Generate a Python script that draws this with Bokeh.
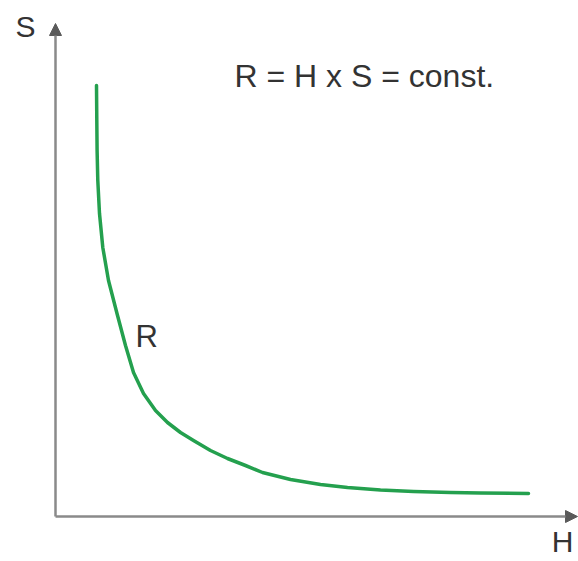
from bokeh.plotting import figure
from bokeh.models import Range1d, Arrow, NormalHead, ColumnDataSource
from bokeh.core.properties import value
from bokeh.embed import file_html
from bokeh.resources import INLINE

# ---- data (arbitrary units) ----
H_values = [0.82, 0.826, 0.832, 0.846, 0.88, 0.946, 1.06, 1.23, 1.40, 1.56,
            1.76, 2.00, 2.24, 2.50, 2.76, 3.10, 3.44, 3.80, 4.14, 4.70,
            5.30, 5.84, 6.50, 7.16, 7.90, 8.50, 9.46]
S_values = [8.62, 7.92, 7.32, 6.72, 6.06, 5.38, 4.72, 4.06, 3.42, 2.88,
            2.46, 2.12, 1.88, 1.68, 1.52, 1.32, 1.16, 1.02, 0.88, 0.74,
            0.64, 0.58, 0.53, 0.50, 0.48, 0.47, 0.46]
curve_label = "R"
formula = "R = H x S = const."
x_label = "H"
y_label = "S"

# axis extents (same units)
H_axis_end = 10.44
S_axis_end = 9.86

FONT = value("Liberation Sans")
TEXT_COLOR = "#333333"
AXIS_COLOR = "#8a8a8a"
HEAD_COLOR = "#5a5a5a"
CURVE_COLOR = "#24a04e"

p = figure(width=578, height=561, output_backend="svg", toolbar_location=None,
           x_range=Range1d(-1.10, 10.46), y_range=Range1d(-0.90, 10.32),
           min_border=0, min_border_left=0, min_border_right=0,
           min_border_top=0, min_border_bottom=0)
p.axis.visible = False
p.grid.visible = False
p.outline_line_color = None
p.background_fill_color = "white"
p.border_fill_color = "white"

# axes with arrow heads
p.add_layout(Arrow(end=NormalHead(size=12, fill_color=HEAD_COLOR, line_color=HEAD_COLOR),
                   x_start=0, y_start=0, x_end=0, y_end=S_axis_end,
                   line_color=AXIS_COLOR, line_width=2.5))
p.add_layout(Arrow(end=NormalHead(size=12, fill_color=HEAD_COLOR, line_color=HEAD_COLOR),
                   x_start=0, y_start=0, x_end=H_axis_end, y_end=0,
                   line_color=AXIS_COLOR, line_width=2.5))

# curve
src = ColumnDataSource(dict(H=H_values, S=S_values))
p.line("H", "S", source=src, line_color=CURVE_COLOR, line_width=3.5,
       line_cap="round", line_join="round")

# texts
p.text(x=[-0.80], y=[9.81], text=[y_label], text_font=FONT, text_font_size="30px",
       text_color=TEXT_COLOR, text_align="left", text_baseline="alphabetic")
p.text(x=[10.36], y=[-0.50], text=[x_label], text_font=FONT, text_font_size="30px",
       text_color=TEXT_COLOR, text_align="right", text_baseline="alphabetic")
p.text(x=[3.58], y=[8.82], text=[formula], text_font=FONT, text_font_size="32px",
       text_color=TEXT_COLOR, text_align="left", text_baseline="alphabetic")
p.text(x=[1.60], y=[3.60], text=[curve_label], text_font=FONT, text_font_size="31px",
       text_color=TEXT_COLOR, text_align="left", text_baseline="alphabetic")

open("out.html", "w").write(file_html(p, INLINE))
